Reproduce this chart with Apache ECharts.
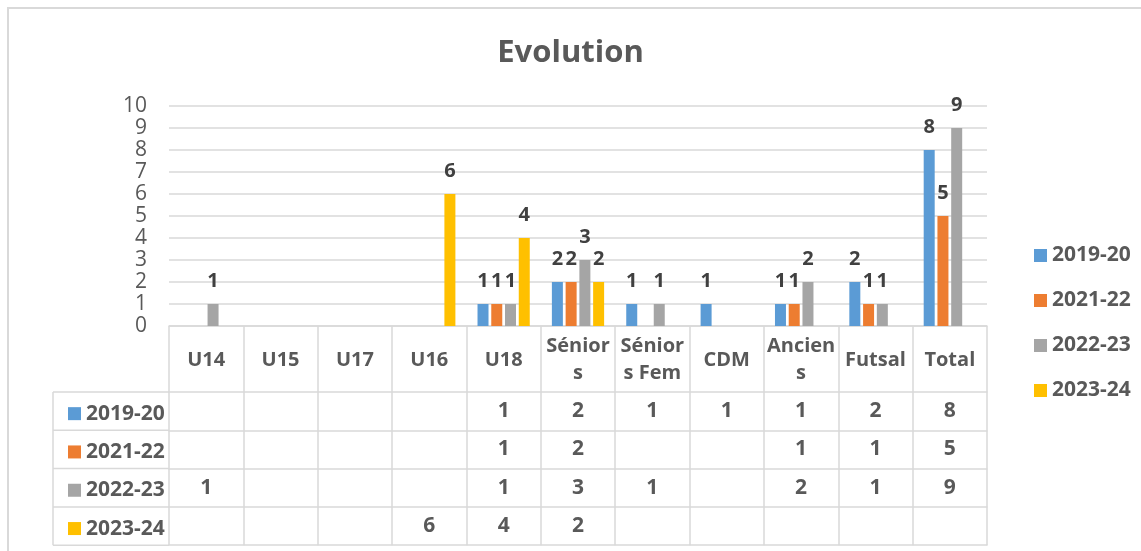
<!DOCTYPE html>
<html>
<head>
<meta charset="utf-8">
<script src="https://cdn.jsdelivr.net/npm/echarts@6/dist/echarts.min.js"></script>
<style>
  html, body { margin: 0; padding: 0; background: #fff; }
  #evolution { width: 1141px; height: 551px; }
</style>
</head>
<body>
<div id="evolution"></div>
<script>
const categories = ['U14', 'U15', 'U17', 'U16', 'U18', 'Séniors', 'Séniors Fem', 'CDM', 'Anciens', 'Futsal', 'Total'];
const seasons = ['2019-20', '2021-22', '2022-23', '2023-24'];
const s2019 = [null, null, null, null, 1, 2, 1, 1, 1, 2, 8];
const s2021 = [null, null, null, null, 1, 2, null, null, 1, 1, 5];
const s2022 = [1, null, null, null, 1, 3, 1, null, 2, 1, 9];
const s2023 = [null, null, null, 6, 4, 2, null, null, null, null, null];
const yTicks = [0, 1, 2, 3, 4, 5, 6, 7, 8, 9, 10];

const rows = [s2019, s2021, s2022, s2023];
const colorList = ['#5B9BD5', '#ED7D31', '#A5A5A5', '#FFC000'];
const font = '"Open Sans", "DejaVu Sans", sans-serif';
const textColor = '#595959';
const lineColor = '#D9D9D9';

// column headers wrap like in the narrow excel cells
const headerWrap = {'Séniors': 'Sénior\ns', 'Séniors Fem': 'Sénior\ns Fem', 'Anciens': 'Ancien\ns'};

// table layout
const plotLeft = 169, plotRight = 987, plotBottom = 326;
const headH = 66, rowH = 38.3, tableLeft = 53;

function setChart() {
  const chartDom = document.getElementById('evolution');
  const myChart = echarts.init(chartDom);

  // header row + one axis per table row + bottom border
  const xAxes = [{
    type: 'category',
    data: categories,
    position: 'bottom',
    axisLine: {lineStyle: {color: lineColor, width: 1.5}},
    axisTick: {show: true, interval: 0, length: headH, lineStyle: {color: lineColor, width: 1.5}},
    axisLabel: {
      interval: 0,
      margin: headH / 2 + 1,
      verticalAlign: 'middle',
      color: textColor,
      fontFamily: font,
      fontWeight: 'bold',
      fontSize: 20,
      lineHeight: 27,
      formatter: v => headerWrap[v] || v
    },
    splitLine: {show: false}
  }];
  rows.forEach((row, i) => {
    xAxes.push({
      type: 'category',
      data: categories,
      position: 'bottom',
      offset: headH + rowH * i,
      axisLine: {lineStyle: {color: lineColor, width: 1.5}},
      axisTick: {show: true, interval: 0, length: rowH, lineStyle: {color: lineColor, width: 1.5}},
      axisLabel: {
        interval: 0,
        margin: rowH / 2,
        verticalAlign: 'middle',
        color: textColor,
        fontFamily: font,
        fontWeight: 'bold',
        fontSize: 21,
        formatter: (v, idx) => row[idx] == null ? '' : String(row[idx])
      }
    });
  });
  xAxes.push({
    type: 'category',
    data: categories,
    position: 'bottom',
    offset: headH + rowH * rows.length,
    axisLine: {lineStyle: {color: lineColor, width: 1.5}},
    axisTick: {show: false},
    axisLabel: {show: false}
  });

  // outer frame and left column borders of the data table
  const graphics = [{
    type: 'rect',
    shape: {x: 8, y: 8, width: 1200, height: 600},
    style: {fill: 'none', stroke: lineColor, lineWidth: 2},
    silent: true
  }];
  for (let i = 0; i <= rows.length; i++) {
    const y = plotBottom + headH + rowH * i;
    graphics.push({
      type: 'line',
      shape: {x1: tableLeft, y1: y, x2: plotLeft, y2: y},
      style: {stroke: lineColor, lineWidth: 1.5},
      silent: true
    });
  }
  graphics.push({
    type: 'line',
    shape: {x1: tableLeft, y1: plotBottom + headH, x2: tableLeft, y2: plotBottom + headH + rowH * rows.length},
    style: {stroke: lineColor, lineWidth: 1.5},
    silent: true
  });

  const legendText = {color: textColor, fontFamily: font, fontWeight: 'bold', fontSize: 21, lineHeight: 21};

  const option = {
    backgroundColor: '#fff',
    color: colorList,
    animation: false,
    title: {
      text: 'Evolution',
      left: 'center',
      top: 33,
      textStyle: {color: textColor, fontFamily: font, fontWeight: 'bold', fontSize: 31}
    },
    legend: [{
      orient: 'vertical',
      left: 1029,
      top: 240,
      itemWidth: 13,
      itemHeight: 13,
      itemGap: 24,
      icon: 'rect',
      data: seasons,
      textStyle: legendText
    }, {
      orient: 'vertical',
      left: 63,
      top: plotBottom + headH + rowH / 2 - 13,
      itemWidth: 13,
      itemHeight: 13,
      itemGap: rowH - 21,
      icon: 'rect',
      data: seasons,
      textStyle: legendText
    }],
    grid: {
      left: plotLeft,
      right: 1141 - plotRight,
      top: 106,
      bottom: 551 - plotBottom,
      containLabel: false
    },
    graphic: graphics,
    xAxis: xAxes,
    yAxis: {
      type: 'value',
      min: yTicks[0],
      max: yTicks[yTicks.length - 1],
      interval: 1,
      axisLine: {show: false},
      axisTick: {show: false},
      axisLabel: {color: textColor, fontFamily: font, fontSize: 21, margin: 22},
      splitLine: {lineStyle: {color: lineColor, width: 1.5}}
    },
    series: rows.map((row, i) => ({
      name: seasons[i],
      type: 'bar',
      xAxisIndex: 0,
      data: row,
      barWidth: 11,
      barGap: '25%',
      label: {
        show: true,
        position: 'top',
        distance: 13,
        color: '#404040',
        fontFamily: font,
        fontWeight: 'bold',
        fontSize: 20
      }
    }))
  };

  option && myChart.setOption(option);
}

setChart();
</script>
</body>
</html>
